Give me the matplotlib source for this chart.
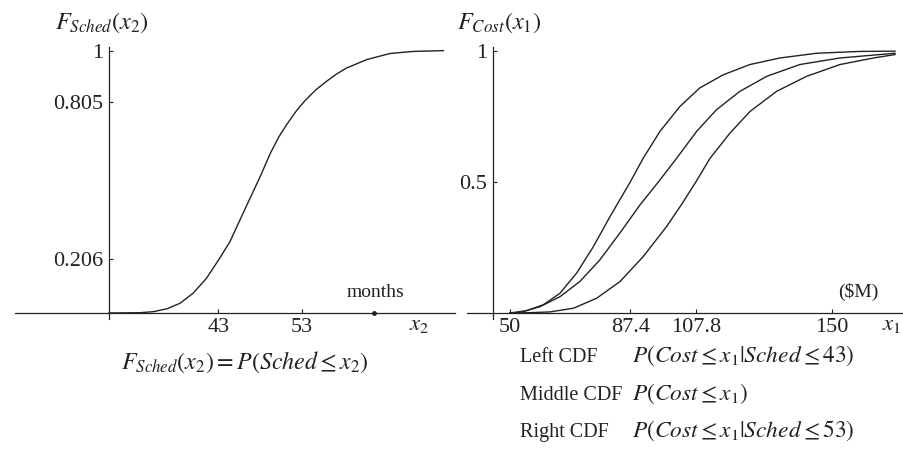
import matplotlib
matplotlib.use("Agg")
import matplotlib.pyplot as plt

# --- data ---
sched_meses = [30, 32, 33.7, 35.3, 36.9, 38.45, 40.0, 41.6, 43.1, 44.4, 45.6,
               46.8, 48.0, 49.2, 50.2, 51.15, 52.3, 53.3, 54.6, 55.9, 57.1,
               58.3, 60.7, 63.45, 66.2, 69.8]
sched_cdf = [0, 0.0005, 0.001, 0.005, 0.016, 0.037, 0.075, 0.132, 0.205,
             0.272, 0.355, 0.438, 0.52, 0.608, 0.67, 0.718, 0.77, 0.808, 0.85,
             0.883, 0.911, 0.934, 0.966, 0.989, 0.997, 1.0]

costo_izq = [50, 55.2, 60.3, 65.5, 70.7, 75.9, 81.1, 87.4, 91.4, 96.6, 102.8,
             109.0, 116.3, 124.6, 133.9, 145.3, 158.8, 169.7]
cdf_izq = [0, 0.009, 0.031, 0.075, 0.152, 0.253, 0.368, 0.5, 0.59, 0.692,
           0.787, 0.858, 0.908, 0.947, 0.972, 0.99, 0.997, 0.998]

costo_medio = [50, 53.1, 59.3, 65.5, 71.7, 77.9, 84.1, 90.4, 96.6, 101.8,
               108.0, 114.2, 121.5, 129.8, 140.1, 152.6, 169.7]
cdf_medio = [0, 0.002, 0.024, 0.062, 0.12, 0.202, 0.304, 0.412, 0.507, 0.59,
             0.692, 0.775, 0.845, 0.902, 0.947, 0.972, 0.99]

costo_der = [50, 56, 62.4, 69.7, 76.9, 84.2, 91.4, 98.7, 103.4, 107.8, 112.2,
             118.4, 124.6, 132.9, 142.2, 152.6, 163.0, 169.7]
cdf_der = [0, 0.001, 0.004, 0.018, 0.056, 0.12, 0.215, 0.33, 0.415, 0.5, 0.59,
           0.686, 0.768, 0.845, 0.902, 0.947, 0.972, 0.985]

ticks_sched = [43, 53]
ticks_sched_y = [0.206, 0.805, 1]
etiquetas_sched_y = ["0.206", "0.805", "1"]
ticks_costo = [50, 87.4, 107.8, 150]
etiquetas_costo = ["50", "87.4", "107.8", "150"]
ticks_costo_y = [0.5, 1]
etiquetas_costo_y = ["0.5", "1"]
marca_meses = [61.5]

leyenda_nombres = ["Left CDF", "Middle CDF", "Right CDF"]
leyenda_formulas = [
    r"$P(\mathit{Cost} \leq x_1|\mathit{Sched} \leq 43)$",
    r"$P(\mathit{Cost} \leq x_1)$",
    r"$P(\mathit{Cost} \leq x_1|\mathit{Sched} \leq 53)$",
]

plt.rcParams["font.family"] = ["Liberation Serif", "DejaVu Serif"]
plt.rcParams["mathtext.fontset"] = "stix"

W, H = 904, 449
TINTA = "#222222"


def pos(px, py):
    return px / W, 1 - py / H


def preparar_eje(eje, x0, ylim):
    eje.set_ylim(*ylim)
    for lado in ["top", "right"]:
        eje.spines[lado].set_visible(False)
    eje.spines["left"].set_position(("data", x0))
    eje.spines["bottom"].set_position(("data", 0))
    for lado in ["left", "bottom"]:
        eje.spines[lado].set_color(TINTA)
        eje.spines[lado].set_linewidth(0.9)
    eje.tick_params(direction="in", length=3, width=0.8, colors=TINTA,
                    labelsize=16)
    eje.tick_params(axis="y", pad=4.3)
    eje.tick_params(axis="x", pad=3.5)
    eje.patch.set_alpha(0)


fig = plt.figure(figsize=(W / 100, H / 100), dpi=100)
ylim = (-0.023, 1.015)
alto = (319 - 46.7) / H
base = (H - 319) / H

# panel de cronograma
eje_sched = fig.add_axes([15 / W, base, 440 / W, alto])
eje_sched.set_xlim(18.8, 71.2)
preparar_eje(eje_sched, 30, ylim)
eje_sched.plot(sched_meses, sched_cdf, color=TINTA, lw=1.0,
               solid_joinstyle="round")
eje_sched.plot(marca_meses, [0] * len(marca_meses), "o", color=TINTA, ms=2.5)
eje_sched.set_xticks(ticks_sched)
eje_sched.set_yticks(ticks_sched_y)
eje_sched.set_yticklabels(etiquetas_sched_y)

# panel de costo
eje_costo = fig.add_axes([467 / W, base, (904 - 467) / W, alto])
eje_costo.set_xlim(36.6, 172.5)
preparar_eje(eje_costo, 44.7, ylim)
for costos, cdf in [(costo_izq, cdf_izq), (costo_medio, cdf_medio),
                    (costo_der, cdf_der)]:
    eje_costo.plot(costos, cdf, color=TINTA, lw=1.0, solid_joinstyle="round")
eje_costo.set_xticks(ticks_costo)
eje_costo.set_xticklabels(etiquetas_costo)
eje_costo.set_yticks(ticks_costo_y)
eje_costo.set_yticklabels(etiquetas_costo_y)

# textos
fig.text(*pos(55, 29), r"$F_{\mathit{Sched}}(x_2)$", fontsize=17.5,
         color=TINTA, va="baseline")
fig.text(*pos(457, 29), r"$F_{\mathit{Cost}}(x_1)$", fontsize=17.5,
         color=TINTA, va="baseline")
fig.text(*pos(376, 297), "months", fontsize=14, color=TINTA, ha="center",
         va="baseline")
fig.text(*pos(419, 330), r"$x_2$", fontsize=16.5, color=TINTA, ha="center",
         va="baseline")
fig.text(*pos(858, 297), "($M)", fontsize=14, color=TINTA, ha="center",
         va="baseline")
fig.text(*pos(901, 330), r"$x_1$", fontsize=16.5, color=TINTA, ha="right",
         va="baseline")
fig.text(*pos(245, 369),
         r"$F_{\mathit{Sched}}(x_2) = P(\mathit{Sched} \leq x_2)$",
         fontsize=17.3, color=TINTA, ha="center", va="baseline")

for i, (nombre, formula) in enumerate(zip(leyenda_nombres, leyenda_formulas)):
    y = 362 + i * 37.5
    fig.text(*pos(520, y), nombre, fontsize=14.5, color=TINTA, va="baseline")
    fig.text(*pos(632, y), formula, fontsize=16.8, color=TINTA, va="baseline")

fig.savefig("out.png", dpi=100, facecolor="white")
